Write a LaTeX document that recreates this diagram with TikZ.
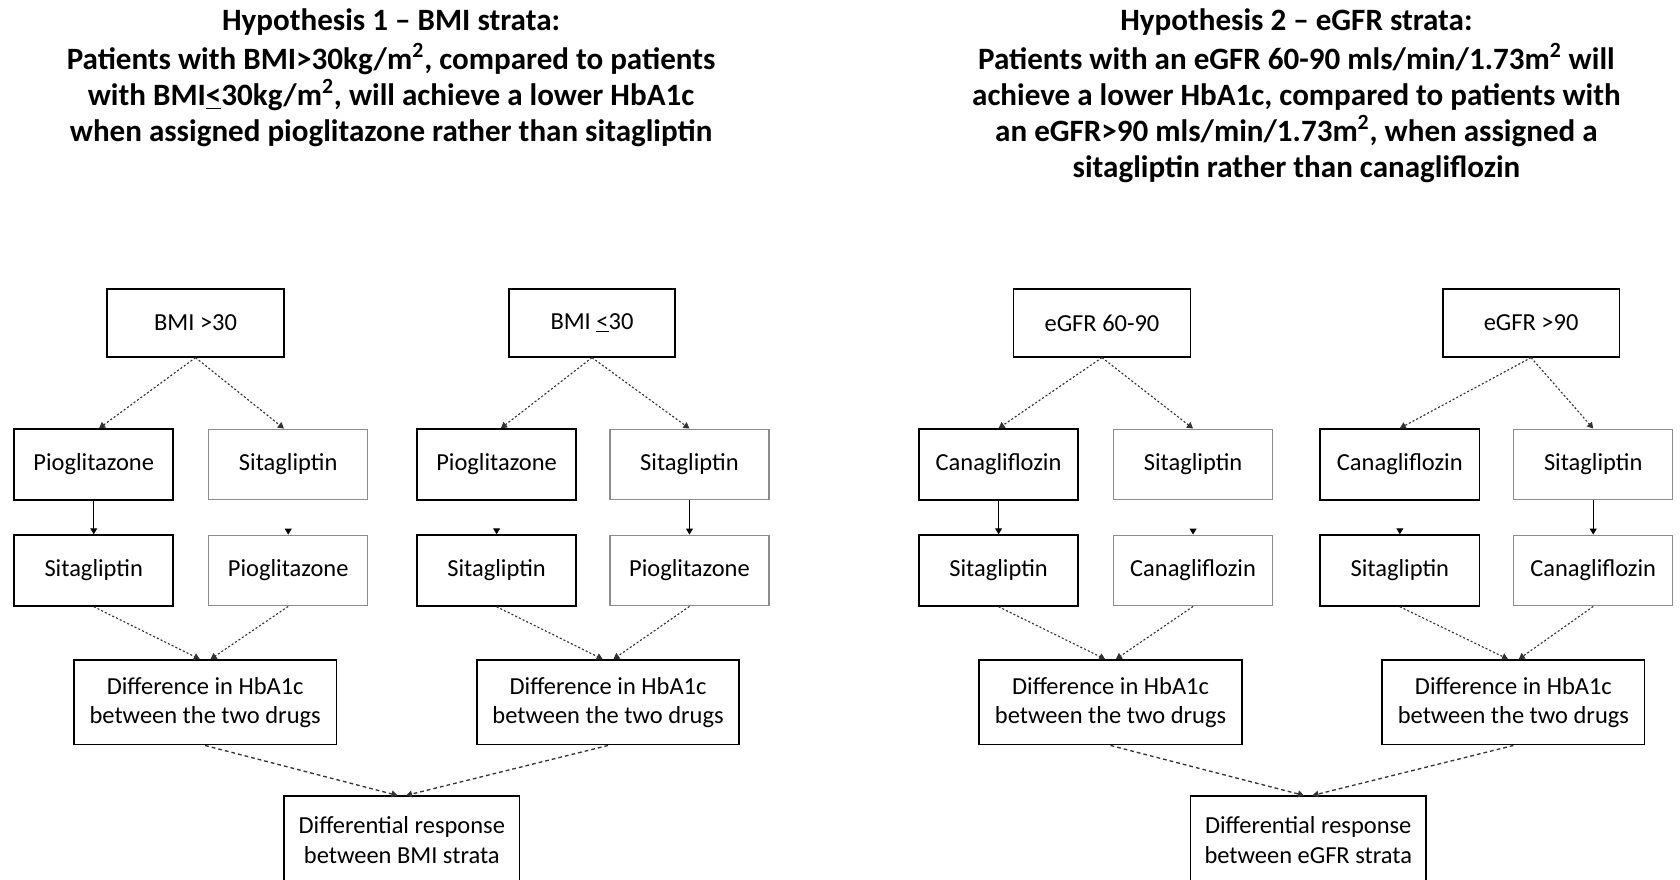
\documentclass[tikz,border=0pt]{standalone}
\usepackage{fontspec}
\setmainfont{Carlito}
\usetikzlibrary{arrows.meta,calc}
\begin{document}
\begin{tikzpicture}[x=0.02cm,y=-0.02cm,
  every node/.style={font=\fontsize{13pt}{15.6pt}\selectfont, inner sep=0pt, align=center},
  box/.style={draw=black, line width=0.9pt, rectangle},
  boxg/.style={draw=black!45, line width=0.6pt, rectangle},
  stratum/.style={box, minimum width=3.3cm, minimum height=1.26cm},
  drugA/.style={box, minimum width=2.97cm, minimum height=1.32cm},
  drugB/.style={boxg, minimum width=2.97cm, minimum height=1.32cm},
  diffbox/.style={box, minimum width=4.9cm, minimum height=1.58cm},
  finalbox/.style={draw=black, line width=0.7pt, minimum width=4.4cm, minimum height=1.64cm},
  title/.style={font=\bfseries\fontsize{16.5pt}{19.1pt}\selectfont, anchor=north},
  conn/.style={draw=black!80, line width=0.6pt, dash pattern=on 1.1pt off 1.1pt, -{Triangle[length=3.2pt,width=3.6pt]}},
  conn2/.style={draw=black!80, line width=0.7pt, dash pattern=on 2pt off 1.6pt, -{Triangle[length=3.2pt,width=3.6pt]}},
  solid arrow/.style={draw=black, line width=0.7pt, -{Triangle[length=3.2pt,width=3.6pt]}},
  stub/.style={draw=black, line width=0.7pt, shorten <=0.58cm, -{Triangle[length=3.2pt,width=3.6pt]}}
]
\useasboundingbox (0,0) rectangle (1568,821);

% Titles
\node[title] (t1) at (365,8) {Hypothesis 1 -- BMI strata:\\[1.5pt]
Patients with BMI>30kg/m\textsuperscript{2}, compared to patients\\
with BMI\underline{<}30kg/m\textsuperscript{2}, will achieve a lower HbA1c\\
when assigned pioglitazone rather than sitagliptin};
\node[title] (t2) at (1210,8) {Hypothesis 2 -- eGFR strata:\\[1.5pt]
Patients with an eGFR 60-90 mls/min/1.73m\textsuperscript{2} will\\
achieve a lower HbA1c, compared to patients with\\
an eGFR>90 mls/min/1.73m\textsuperscript{2}, when assigned a\\
sitagliptin rather than canagliflozin};

% Group 1
\node[stratum] (s1) at (182.5,301.5) {BMI >30};
\node[drugA] (a1) at (87.5,433.5) {Pioglitazone};
\node[drugB] (b1) at (269,433.5) {Sitagliptin};
\node[drugA] (a1x) at (87.5,532.5) {Sitagliptin};
\node[drugB] (b1x) at (269,532.5) {Pioglitazone};
\node[diffbox] (d1) at (191.5,655.5) {Difference in HbA1c\\between the two drugs};

% Group 2
\node[stratum, minimum width=3.1cm] (s2) at (552.5,301.5) {BMI \underline{<}30};
\node[drugA] (a2) at (463.5,433.5) {Pioglitazone};
\node[drugB] (b2) at (643.5,433.5) {Sitagliptin};
\node[drugA] (a2x) at (463.5,532.5) {Sitagliptin};
\node[drugB] (b2x) at (643.5,532.5) {Pioglitazone};
\node[diffbox] (d2) at (567.5,655.5) {Difference in HbA1c\\between the two drugs};

\node[finalbox] (f1) at (375,784) {Differential response\\between BMI strata};

% Group 3
\node[stratum] (s3) at (1028.5,301.5) {eGFR 60-90};
\node[drugA] (a3) at (932,433.5) {Canagliflozin};
\node[drugB] (b3) at (1113.5,433.5) {Sitagliptin};
\node[drugA] (a3x) at (932,532.5) {Sitagliptin};
\node[drugB] (b3x) at (1113.5,532.5) {Canagliflozin};
\node[diffbox] (d3) at (1036.5,655.5) {Difference in HbA1c\\between the two drugs};

% Group 4
\node[stratum] (s4) at (1429,301.5) {eGFR >90};
\node[drugA] (a4) at (1306.5,433.5) {Canagliflozin};
\node[drugB] (b4) at (1487,433.5) {Sitagliptin};
\node[drugA] (a4x) at (1306.5,532.5) {Sitagliptin};
\node[drugB] (b4x) at (1487,532.5) {Canagliflozin};
\node[diffbox] (d4) at (1412.5,655.5) {Difference in HbA1c\\between the two drugs};

\node[finalbox] (f2) at (1221,784) {Differential response\\between eGFR strata};

% Connectors group 1
\draw[conn] (s1.south) -- ($(a1.north)+(5,0)$);
\draw[conn] (s1.south) -- ($(b1.north)+(-4,0)$);
\draw[solid arrow] (a1.south) -- (a1x.north);
\draw[stub] (b1.south) -- (b1x.north);
\draw[conn] (a1x.south) -- ($(d1.north)+(-5,0)$);
\draw[conn] (b1x.south) -- ($(d1.north)+(5,0)$);
% group 2
\draw[conn] (s2.south) -- ($(a2.north)+(4,0)$);
\draw[conn] (s2.south) -- (b2.north);
\draw[stub] (a2.south) -- (a2x.north);
\draw[solid arrow] (b2.south) -- (b2x.north);
\draw[conn] (a2x.south) -- ($(d2.north)+(-5,0)$);
\draw[conn] (b2x.south) -- ($(d2.north)+(5,0)$);
% final 1
\draw[conn2] (d1.south) -- ($(f1.north)+(-4,0)$);
\draw[conn2] (d2.south) -- ($(f1.north)+(4,0)$);

% group 3
\draw[conn] (s3.south) -- (a3.north);
\draw[conn] (s3.south) -- (b3.north);
\draw[solid arrow] (a3.south) -- (a3x.north);
\draw[stub] (b3.south) -- (b3x.north);
\draw[conn] (a3x.south) -- ($(d3.north)+(-5,0)$);
\draw[conn] (b3x.south) -- ($(d3.north)+(5,0)$);
% group 4
\draw[conn] (s4.south) -- (a4.north);
\draw[conn] (s4.south) -- (b4.north);
\draw[stub] (a4.south) -- (a4x.north);
\draw[solid arrow] (b4.south) -- (b4x.north);
\draw[conn] (a4x.south) -- ($(d4.north)+(-5,0)$);
\draw[conn] (b4x.south) -- ($(d4.north)+(5,0)$);
% final 2
\draw[conn2] (d3.south) -- ($(f2.north)+(-4,0)$);
\draw[conn2] (d4.south) -- ($(f2.north)+(4,0)$);
\end{tikzpicture}
\end{document}
